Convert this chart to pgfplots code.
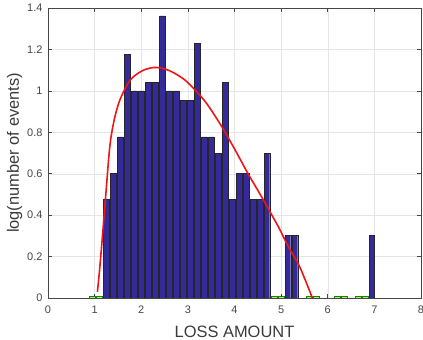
\documentclass[border=0pt]{standalone}
\usepackage{fontspec}
\setmainfont{Liberation Sans}
\usepackage{pgfplots}
\usepackage{pgfplotstable}
\pgfplotsset{compat=1.18}

\definecolor{barblue}{RGB}{52,42,155}
\definecolor{fitred}{RGB}{240,20,20}
\definecolor{edgegreen}{RGB}{90,185,90}
\definecolor{axgray}{RGB}{70,70,70}

% log10 of event counts per loss bin (bin width 0.15)
\pgfplotstableread{
x     y
1.25  0.477
1.40  0.602
1.55  0.778
1.70  1.176
1.85  1.000
2.00  1.000
2.15  1.041
2.30  1.041
2.45  1.362
2.60  1.000
2.75  1.000
2.90  0.954
3.05  0.954
3.20  1.230
3.35  0.778
3.50  0.778
3.65  0.699
3.80  1.041
3.95  0.477
4.10  0.602
4.25  0.602
4.40  0.477
4.55  0.477
4.70  0.699
5.15  0.301
5.30  0.301
6.95  0.301
}\logcounts

% bins holding a single event (log = 0)
\pgfplotstableread{
x     y
0.95  0.008
1.10  0.008
4.85  0.008
5.00  0.008
5.60  0.008
5.75  0.008
6.20  0.008
6.35  0.008
6.65  0.008
6.80  0.008
}\singles

% inner bin edges of the outline histogram
\pgfplotstableread{
x     y
1.325 0.42
1.475 0.42
1.625 0.42
1.775 0.42
1.925 0.42
2.075 0.42
2.225 0.42
2.375 0.42
2.525 0.42
2.675 0.42
2.825 0.42
2.975 0.42
3.125 0.42
3.275 0.42
3.425 0.42
3.575 0.42
3.725 0.42
3.875 0.42
4.025 0.42
4.175 0.42
4.325 0.42
4.475 0.42
4.625 0.42
5.225 0.25
}\edges

% fitted density curve
\pgfplotstableread{
x     y
1.06  0.03
1.10  0.12
1.15  0.25
1.24  0.50
1.33  0.74
1.43  0.87
1.54  0.955
1.70  1.03
1.83  1.068
2.05  1.10
2.28  1.113
2.50  1.106
2.70  1.087
2.95  1.05
3.15  1.005
3.40  0.94
3.72  0.83
4.00  0.72
4.29  0.60
4.50  0.52
4.72  0.433
4.95  0.34
5.15  0.25
5.40  0.15
5.67  0.00
}\fit

\begin{document}
\begin{tikzpicture}
\begin{axis}[
  at={(0,0)}, anchor=south west,
  scale only axis, width=373bp, height=290bp,
  xmin=0, xmax=8, ymin=0, ymax=1.4,
  xtick={0,1,2,3,4,5,6,7,8},
  ytick={0,0.2,0.4,0.6,0.8,1,1.2,1.4},
  grid=major,
  major grid style={gray!20, line width=0.4pt},
  axis line style={axgray, line width=0.5pt},
  tick style={axgray, line width=0.5pt},
  major tick length=4bp,
  tick align=inside,
  /pgf/number format/assume math mode=true,
  ticklabel style={font=\fontsize{11}{13}\selectfont, text=axgray},
  xticklabel style={yshift=-4bp},
  yticklabel style={xshift=-2bp},
  xlabel={LOSS AMOUNT},
  ylabel={log(number of events)},
  label style={font=\fontsize{16.5}{19}\selectfont, text=axgray!85!black},
  xlabel style={at={(axis description cs:0.5,-0.1345)}, anchor=base},
  ylabel style={at={(axis description cs:-0.078,0.5)}, anchor=base},
]
  \addplot[ycomb, edgegreen, line width=0.8pt, mark=none] table {\edges};
  \addplot[ybar, bar width=0.13, bar shift=0pt, draw=green!55!black,
           fill=yellow!60!green!60!white, line width=0.5pt] table {\singles};
  \addplot[ybar, bar width=0.112, bar shift=0pt, draw=black!85,
           fill=barblue, line width=0.4pt] table {\logcounts};
  \addplot[fitred, line width=1.6pt, smooth, mark=none] table {\fit};
\end{axis}
\pgfresetboundingbox
\useasboundingbox (-48bp,-42bp) rectangle (375bp,298bp);
\end{tikzpicture}
\end{document}
